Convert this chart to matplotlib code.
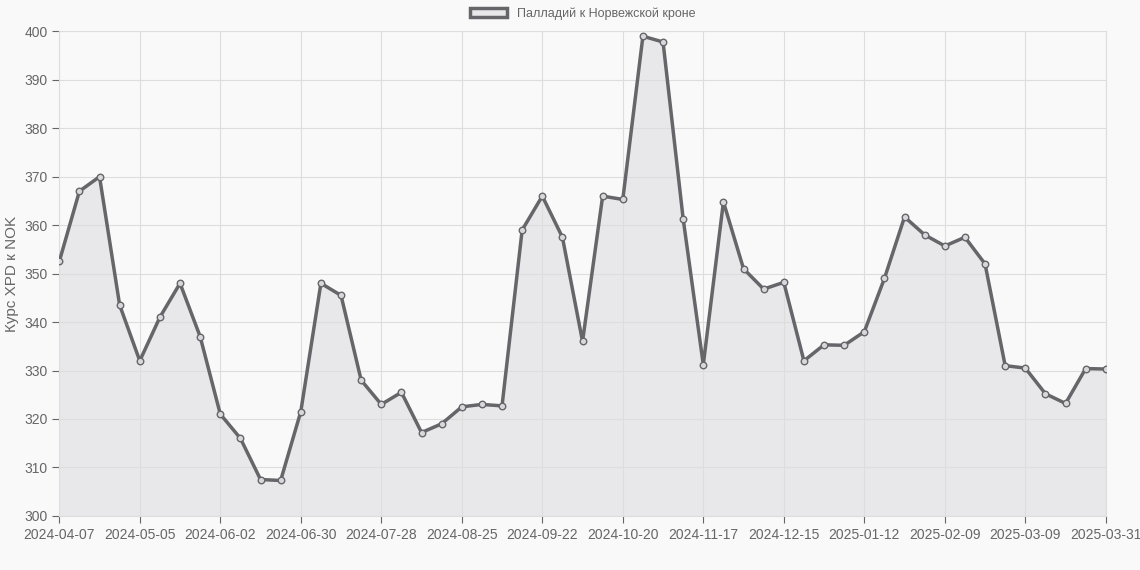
import matplotlib.pyplot as plt
import numpy as np

rates = [352.5, 367, 370, 343.5, 332, 341, 348, 337, 321, 316, 307.5, 307.3, 321.5,
         348, 345.5, 328, 323, 325.5, 317.2, 319, 322.5, 323, 322.7, 359, 366, 357.5,
         336, 366, 365.3, 399, 397.8, 361.3, 331.2, 364.8, 351, 346.8, 348.2, 332,
         335.3, 335.2, 338, 349, 361.7, 358, 355.7, 357.5, 352, 331, 330.5, 325.2,
         323.2, 330.4, 330.3]
tick_pos = [0, 4, 8, 12, 16, 20, 24, 28, 32, 36, 40, 44, 48, 52]
tick_labels = ["2024-04-07", "2024-05-05", "2024-06-02", "2024-06-30", "2024-07-28",
               "2024-08-25", "2024-09-22", "2024-10-20", "2024-11-17", "2024-12-15",
               "2025-01-12", "2025-02-09", "2025-03-09", "2025-03-31"]

plt.rcParams["font.family"] = ["Liberation Sans", "DejaVu Sans"]
fig = plt.figure(figsize=(11.4, 5.7), dpi=100)
fig.patch.set_facecolor("#f9f9f9")
ax = fig.add_axes([0.052, 0.095, 0.918, 0.85])
ax.set_facecolor("#f9f9f9")
x = np.arange(len(rates))
line_c = "#66666a"
ax.fill_between(x, rates, 300, color="#e8e8ea", zorder=1)
ax.plot(x, rates, color=line_c, lw=2.5, zorder=3, label="Палладий к Норвежской кроне")
ax.scatter(x, rates, s=22, facecolor="#d8d8dc", edgecolor=line_c, lw=1, zorder=4)
ax.set_xlim(0, len(rates) - 1)
ax.set_ylim(300, 400)
ax.set_yticks(range(300, 401, 10))
ax.set_xticks(tick_pos)
ax.set_xticklabels(tick_labels)
ax.grid(True, color="#dddddd", lw=0.8)
for s in ax.spines.values():
    s.set_color("#dddddd")
ax.tick_params(colors="#666666", labelsize=10, length=5)
ax.set_ylabel("Курс XPD к NOK", color="#666666", fontsize=11)
leg = ax.legend(loc="lower center", bbox_to_anchor=(0.5, 1.0), frameon=False,
                fontsize=9, handlelength=3)
for t in leg.get_texts():
    t.set_color("#666666")
h = leg.legend_handles[0]
from matplotlib.patches import Patch
ax.legend(handles=[Patch(facecolor="#e8e8ea", edgecolor=line_c, lw=2.5)],
          labels=["Палладий к Норвежской кроне"], loc="lower center",
          bbox_to_anchor=(0.5, 1.0), frameon=False, fontsize=9, handlelength=3,
          labelcolor="#666666")
fig.savefig("out.png", facecolor=fig.get_facecolor())
